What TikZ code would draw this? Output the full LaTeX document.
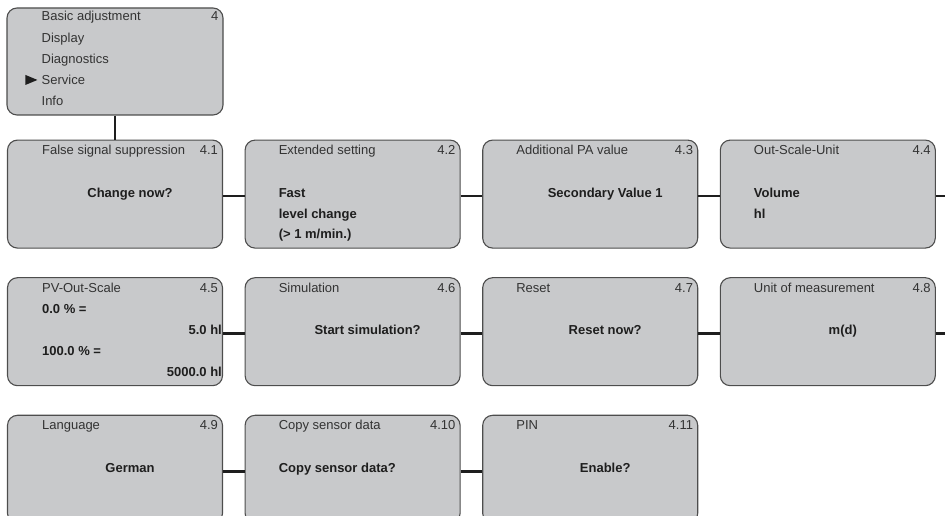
\documentclass[tikz,border=0pt]{standalone}
\usepackage{fontspec}
\setmainfont{Liberation Sans}
\usetikzlibrary{positioning}

\definecolor{panelgray}{HTML}{C8C9CB}
\definecolor{framegray}{HTML}{4D4D4D}
\definecolor{textgray}{HTML}{333333}
\definecolor{linegray}{HTML}{1E1E1E}

\begin{document}
\begin{tikzpicture}[
  x=1pt, y=1pt,
  node distance=21.5pt,
  menu/.style={rectangle, rounded corners=10pt, draw=framegray, line width=1.1pt, fill=panelgray, minimum width=215pt, minimum height=108pt, inner sep=0pt},
  head/.style={inner sep=0pt, text=textgray, font=\fontsize{13}{15}\selectfont},
  value/.style={inner sep=0pt, text=linegray, font=\fontsize{13}{15}\selectfont\bfseries},
  link/.style={draw=linegray, line width=2.7pt}
]

\useasboundingbox (0,0) rectangle (945,516);
\clip (0,0) rectangle (945,516);

% main menu
\node[menu, minimum width=216pt, minimum height=107pt] (main) at (115,454.5) {};
\node[head, anchor=base west] (m1) at ([xshift=35pt,yshift=-13.5pt]main.north west) {Basic adjustment};
\node[head, anchor=base east] (mn) at ([xshift=-5pt,yshift=-13.5pt]main.north east) {4};
\node[head, anchor=base west] (m2) at ([xshift=35pt,yshift=-35.5pt]main.north west) {Display};
\node[head, anchor=base west] (m3) at ([xshift=35pt,yshift=-56.5pt]main.north west) {Diagnostics};
\node[head, anchor=base west] (m4) at ([xshift=35pt,yshift=-77.5pt]main.north west) {Service};
\node[head, anchor=base west] (m5) at ([xshift=35pt,yshift=-98.5pt]main.north west) {Info};
\fill[linegray] ([xshift=-16pt]m4.base west) -- ++(0,10) -- ++(12,-5) -- cycle;

% service panels
\node[menu, below=24pt of main] (p41) {};
\node[menu, right=of p41] (p42) {};
\node[menu, right=of p42] (p43) {};
\node[menu, right=of p43] (p44) {};
\node[menu, below=28.5pt of p41] (p45) {};
\node[menu, right=of p45] (p46) {};
\node[menu, right=of p46] (p47) {};
\node[menu, right=of p47] (p48) {};
\node[menu, below=28.5pt of p45] (p49) {};
\node[menu, right=of p49] (p410) {};
\node[menu, right=of p410] (p411) {};

\coordinate[right=13pt of p44] (out1);
\coordinate[right=13pt of p48] (out2);

% titles and numbers
\node[head, anchor=base west] (h41) at ([xshift=35pt,yshift=-15pt]p41.north west) {False signal suppression};
\node[head, anchor=base east] (n41) at ([xshift=-5pt,yshift=-15pt]p41.north east) {4.1};
\node[head, anchor=base west] (h42) at ([xshift=34pt,yshift=-15pt]p42.north west) {Extended setting};
\node[head, anchor=base east] (n42) at ([xshift=-5pt,yshift=-15pt]p42.north east) {4.2};
\node[head, anchor=base west] (h43) at ([xshift=34pt,yshift=-15pt]p43.north west) {Additional PA value};
\node[head, anchor=base east] (n43) at ([xshift=-5pt,yshift=-15pt]p43.north east) {4.3};
\node[head, anchor=base west] (h44) at ([xshift=34pt,yshift=-15pt]p44.north west) {Out-Scale-Unit};
\node[head, anchor=base east] (n44) at ([xshift=-5pt,yshift=-15pt]p44.north east) {4.4};
\node[head, anchor=base west] (h45) at ([xshift=35pt,yshift=-15pt]p45.north west) {PV-Out-Scale};
\node[head, anchor=base east] (n45) at ([xshift=-5pt,yshift=-15pt]p45.north east) {4.5};
\node[head, anchor=base west] (h46) at ([xshift=34pt,yshift=-15pt]p46.north west) {Simulation};
\node[head, anchor=base east] (n46) at ([xshift=-5pt,yshift=-15pt]p46.north east) {4.6};
\node[head, anchor=base west] (h47) at ([xshift=34pt,yshift=-15pt]p47.north west) {Reset};
\node[head, anchor=base east] (n47) at ([xshift=-5pt,yshift=-15pt]p47.north east) {4.7};
\node[head, anchor=base west] (h48) at ([xshift=34pt,yshift=-15pt]p48.north west) {Unit of measurement};
\node[head, anchor=base east] (n48) at ([xshift=-5pt,yshift=-15pt]p48.north east) {4.8};
\node[head, anchor=base west] (h49) at ([xshift=35pt,yshift=-15pt]p49.north west) {Language};
\node[head, anchor=base east] (n49) at ([xshift=-5pt,yshift=-15pt]p49.north east) {4.9};
\node[head, anchor=base west] (h410) at ([xshift=34pt,yshift=-15pt]p410.north west) {Copy sensor data};
\node[head, anchor=base east] (n410) at ([xshift=-5pt,yshift=-15pt]p410.north east) {4.10};
\node[head, anchor=base west] (h411) at ([xshift=34pt,yshift=-15pt]p411.north west) {PIN};
\node[head, anchor=base east] (n411) at ([xshift=-5pt,yshift=-15pt]p411.north east) {4.11};

% values
\node[value, anchor=base] (v41) at ([xshift=15pt,yshift=-57.5pt]p41.north) {Change now?};
\node[value, anchor=base west] (v42a) at ([xshift=34pt,yshift=-57.5pt]p42.north west) {Fast};
\node[value, anchor=base west] (v42b) at ([xshift=34pt,yshift=-78.5pt]p42.north west) {level change};
\node[value, anchor=base west] (v42c) at ([xshift=34pt,yshift=-99pt]p42.north west) {(> 1 m/min.)};
\node[value, anchor=base] (v43) at ([xshift=15pt,yshift=-57.5pt]p43.north) {Secondary Value 1};
\node[value, anchor=base west] (v44a) at ([xshift=34pt,yshift=-57.5pt]p44.north west) {Volume};
\node[value, anchor=base west] (v44b) at ([xshift=34pt,yshift=-78.5pt]p44.north west) {hl};
\node[value, anchor=base west] (v45a) at ([xshift=35pt,yshift=-36pt]p45.north west) {0.0 \% =};
\node[value, anchor=base east] (v45b) at ([xshift=-1pt,yshift=-57.5pt]p45.north east) {5.0 hl};
\node[value, anchor=base west] (v45c) at ([xshift=35pt,yshift=-78.5pt]p45.north west) {100.0 \% =};
\node[value, anchor=base east] (v45d) at ([xshift=-1pt,yshift=-99pt]p45.north east) {5000.0 hl};
\node[value, anchor=base] (v46) at ([xshift=15pt,yshift=-57.5pt]p46.north) {Start simulation?};
\node[value, anchor=base] (v47) at ([xshift=15pt,yshift=-57.5pt]p47.north) {Reset now?};
\node[value, anchor=base] (v48) at ([xshift=15pt,yshift=-57.5pt]p48.north) {m(d)};
\node[value, anchor=base] (v49) at ([xshift=15pt,yshift=-57.5pt]p49.north) {German};
\node[value, anchor=base west] (v410) at ([xshift=34pt,yshift=-57.5pt]p410.north west) {Copy sensor data?};
\node[value, anchor=base] (v411) at ([xshift=15pt,yshift=-57.5pt]p411.north) {Enable?};

% connectors
\draw[link] (main.south) -- (p41.north);
\draw[link] ([yshift=-2pt]p41.east) -- ([yshift=-2pt]p42.west);
\draw[link] ([yshift=-2pt]p42.east) -- ([yshift=-2pt]p43.west);
\draw[link] ([yshift=-2pt]p43.east) -- ([yshift=-2pt]p44.west);
\draw[link] ([yshift=-2pt]p44.east) -- ([yshift=-2pt]out1);
\draw[link] ([yshift=-2pt]p45.east) -- ([yshift=-2pt]p46.west);
\draw[link] ([yshift=-2pt]p46.east) -- ([yshift=-2pt]p47.west);
\draw[link] ([yshift=-2pt]p47.east) -- ([yshift=-2pt]p48.west);
\draw[link] ([yshift=-2pt]p48.east) -- ([yshift=-2pt]out2);
\draw[link] ([yshift=-2pt]p49.east) -- ([yshift=-2pt]p410.west);
\draw[link] ([yshift=-2pt]p410.east) -- ([yshift=-2pt]p411.west);

\end{tikzpicture}
\end{document}
